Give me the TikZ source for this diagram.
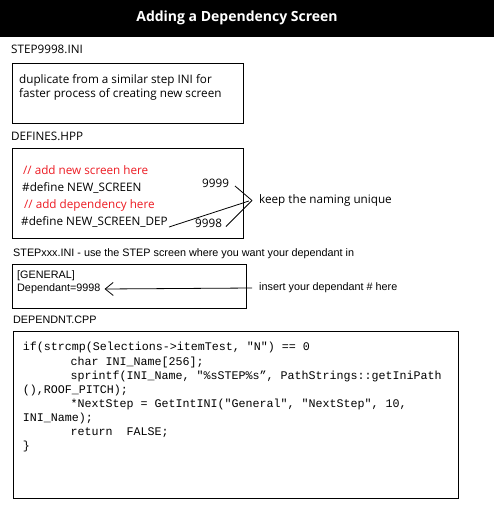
\documentclass[tikz,border=0pt]{standalone}
\usepackage{fontspec}
\setmainfont{Open Sans}
\newfontfamily\arialf{Liberation Sans}
\newfontfamily\courf{Liberation Mono}
\usetikzlibrary{arrows.meta}
\definecolor{redtxt}{RGB}{237,28,36}
\tikzset{
  lbl/.style={anchor=west,inner sep=0pt,font=\fontsize{11.7}{14}\selectfont,text height=7.5pt,text depth=2pt},
  albl/.style={anchor=west,inner sep=0pt,font=\arialf\fontsize{10.8}{13}\selectfont,text height=7pt,text depth=2pt},
  code/.style={anchor=west,inner sep=0pt,font=\courf\fontsize{11.67}{13}\selectfont,text height=7pt,text depth=2pt},
  box/.style={draw=black,line width=1pt},
  conn/.style={draw=black,line width=0.8pt}
}
\begin{document}
\begin{tikzpicture}[x=1pt,y=-1pt]
\useasboundingbox (0,0) rectangle (494,522);
\fill[white] (0,0) rectangle (494,522);
% title
\fill[black] (0,0) rectangle (494,36.5);
\node[text=white,font=\bfseries\fontsize{14}{16}\selectfont,inner sep=0pt] (title) at (237,18) {Adding a Dependency Screen};
% section 1
\node[lbl] (l1) at (11,51) {STEP9998.INI};
\draw[box] (12,63.5) rectangle (243.5,123);
\node[lbl] (t1a) at (19,81) {duplicate from a similar step INI for};
\node[lbl] (t1b) at (19,95) {faster process of creating new screen};
% section 2
\node[lbl] (l2) at (11,137.5) {DEFINES.HPP};
\draw[box] (12,148.5) rectangle (243.5,238.5);
\node[lbl,text=redtxt] (c1) at (23,172) {// add new screen here};
\node[lbl] (d1) at (22,189) {\#define NEW\_SCREEN};
\node[lbl,text=redtxt] (c2) at (24,206) {// add dependency here};
\node[lbl] (d2) at (21,223) {\#define NEW\_SCREEN\_DEP};
\node[lbl] (n1) at (202,185) {9999};
\node[lbl] (n2) at (195,224.5) {9998};
\node[lbl] (keep) at (259,201) {keep the naming unique};
\coordinate (tip) at (252,200.5);
\coordinate (s1) at (235,186);
\coordinate (s2) at (226,226.5);
\coordinate (s3) at ([xshift=1pt,yshift=-4pt]d2.east);
\coordinate (e3) at (249,201);
\draw[conn] (s1) -- (tip);
\draw[conn] (s2) -- (tip);
\draw[conn] (s3) -- (e3);
% section 3
\node[albl] (l3) at (13,253.5) {STEPxxx.INI - use the STEP screen where you want your dependant in};
\draw[box] (12.5,264.5) rectangle (246,308.5);
\node[albl] (g1) at (17,275.7) {[GENERAL]};
\node[albl] (g2) at (17,289) {Dependant=9998};
\node[albl] (ins) at (259,287.7) {insert your dependant \# here};
\coordinate (a0) at (252,288);
\coordinate (a1) at ([xshift=4pt]g2.east);
\draw[conn,-{Straight Barb[length=8pt,width=13pt,line width=0.8pt]}] (a0) -- (a1);
% section 4
\node[albl] (l4) at (13,321) {DEPENDNT.CPP};
\draw[box] (13.5,331.7) rectangle (458.7,498.3);
\node[code] (k1) at (22.7,348.3) {if(strcmp(Selections->itemTest, "N") == 0};
\node[code] (k2) at (70.3,362.7) {char INI\_Name[256];};
\node[code] (k3) at (70.3,376.7) {sprintf(INI\_Name, "\%sSTEP\%s”, PathStrings::getIniPath};
\node[code] (k4) at (22.7,390.7) {(),ROOF\_PITCH);};
\node[code] (k5) at (70.3,405) {*NextStep = GetIntINI("General", "NextStep", 10,};
\node[code] (k6) at (22.7,419) {INI\_Name);};
\node[code] (k7) at (70.3,432.7) {return\ \ FALSE;};
\node[code] (k8) at (22.7,447.3) {\}};
\end{tikzpicture}
\end{document}
